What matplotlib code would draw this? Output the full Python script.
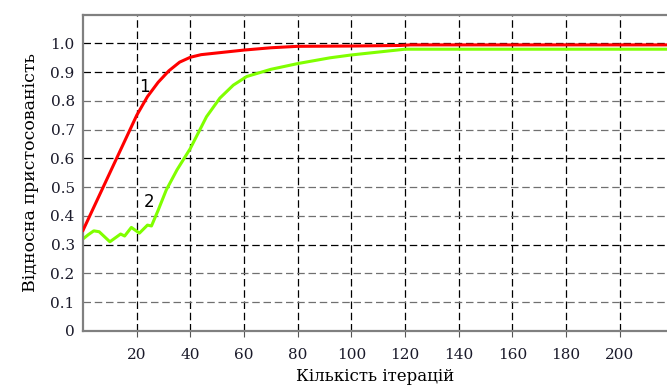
import matplotlib
matplotlib.use("Agg")
import matplotlib.pyplot as plt

# curve 1 (red)
x1 = [0, 5, 10, 15, 20, 24, 28, 32, 36, 40, 44, 50, 60, 70, 80, 100, 118, 122, 218]
y1 = [0.35, 0.45, 0.55, 0.65, 0.75, 0.815, 0.865, 0.905, 0.935, 0.952, 0.961, 0.967,
      0.977, 0.985, 0.99, 0.991, 0.993, 0.995, 0.995]

# curve 2 (green)
x2 = [0, 2, 4, 6, 10, 14, 15.5, 18, 21, 24, 25.5, 28, 31, 35, 40, 46, 51, 56, 61,
      70, 80, 92, 100, 110, 120, 218]
y2 = [0.32, 0.335, 0.348, 0.345, 0.31, 0.337, 0.33, 0.36, 0.34, 0.368, 0.365, 0.42,
      0.49, 0.56, 0.635, 0.745, 0.81, 0.855, 0.885, 0.91, 0.93, 0.95, 0.96, 0.97,
      0.98, 0.98]

xticks = [20, 40, 60, 80, 100, 120, 140, 160, 180, 200]
yticks = [0, 0.1, 0.2, 0.3, 0.4, 0.5, 0.6, 0.7, 0.8, 0.9, 1.0]
ytick_labels = ["0", "0.1", "0.2", "0.3", "0.4", "0.5", "0.6", "0.7", "0.8", "0.9", "1.0"]
dark_rows = [0.3, 0.6, 0.9, 1.0]

serif = "DejaVu Serif"

fig = plt.figure(figsize=(6.67, 3.87), dpi=100)
ax = fig.add_axes([0.1245, 0.145, 0.8755, 0.817])

# grid
for xv in xticks:
    ax.axvline(xv, color="black", lw=0.9, dashes=(6, 3), zorder=1)
for yv in yticks[1:]:
    col = "black" if yv in dark_rows else "#707070"
    ax.axhline(yv, color=col, lw=0.9, dashes=(6, 3), zorder=1)

ax.plot(x1, y1, color="#ff0000", lw=2.2, zorder=3)
ax.plot(x2, y2, color="#80ff00", lw=2.2, zorder=2)

ax.text(21.0, 0.848, "1", fontsize=12, family="DejaVu Sans", ha="left", va="center")
ax.text(22.7, 0.45, "2", fontsize=12, family="DejaVu Sans", ha="left", va="center")

ax.set_xlim(0, 217.6)
ax.set_ylim(0, 1.1)
ax.set_xticks(xticks)
ax.set_yticks(yticks)
ax.set_yticklabels(ytick_labels)

for s in ["left", "top", "bottom"]:
    ax.spines[s].set_color("#808080")
    ax.spines[s].set_linewidth(1.6)
ax.spines["right"].set_visible(False)

ax.tick_params(axis="x", direction="out", length=4, width=0.8, color="#555555",
               pad=8, labelsize=11)
ax.tick_params(axis="y", length=0, pad=6, labelsize=11)
for lab in ax.get_xticklabels() + ax.get_yticklabels():
    lab.set_family(serif)
    lab.set_color("#1a1a2a")

ax.set_xlabel("Кількість ітерацій", family=serif, fontsize=12, labelpad=5)
ax.set_ylabel("Відносна пристосованість", family=serif, fontsize=12.5, labelpad=8)

fig.savefig("out.png", dpi=100)
